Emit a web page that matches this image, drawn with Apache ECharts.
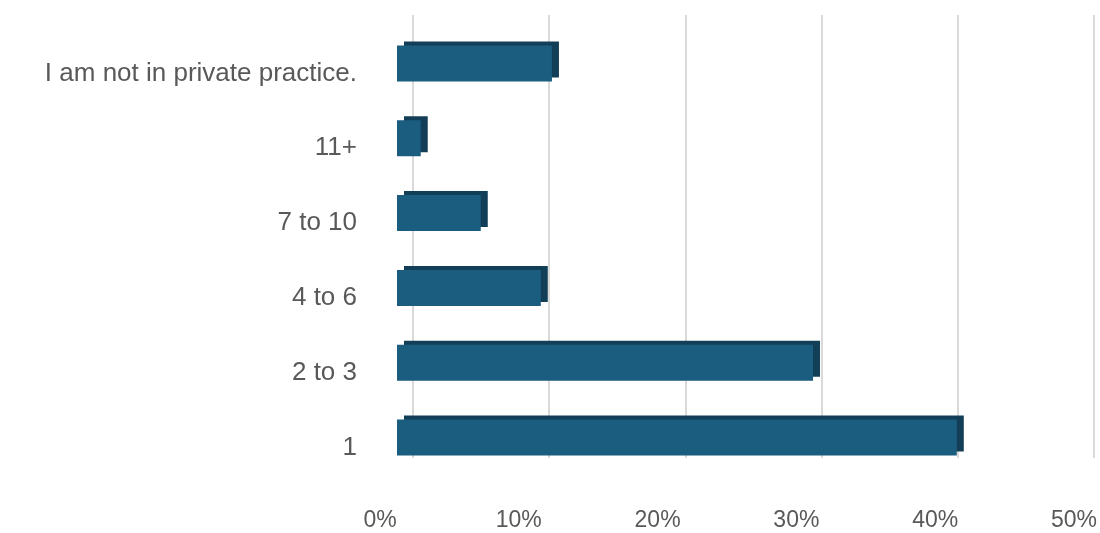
<!DOCTYPE html>
<html>
<head>
<meta charset="utf-8">
<script src="https://cdn.jsdelivr.net/npm/echarts@6/dist/echarts.min.js"></script>
<style>html,body{margin:0;padding:0;background:#fff;}#c{width:1100px;height:533px;}</style>
</head>
<body>
<div id="c"></div>
<script>
// Data (bottom to top)
const categories = ['1', '2 to 3', '4 to 6', '7 to 10', '11+', 'I am not in private practice.'];
const values = [40.1, 29.8, 10.3, 6.0, 1.7, 11.1];
const tickValues = [0, 10, 20, 30, 40, 50];

const chart = echarts.init(document.getElementById('c'));
const barColor = '#1b5d7f';
const sideColor = '#123f57';

chart.setOption({
  backgroundColor: '#ffffff',
  animation: false,
  grid: [
    // bars
    { left: 397, width: 698, top: 26, height: 449, containLabel: false },
    // back-wall gridlines
    { left: 413, width: 681, top: 15, height: 443, containLabel: false },
    // tick labels
    { left: 380, width: 698, top: 26, height: 449, containLabel: false }
  ],
  xAxis: [
    {
      gridIndex: 0, type: 'value', min: 0, max: 50, interval: 10,
      axisLabel: { show: false }, splitLine: { show: false },
      axisLine: { show: false }, axisTick: { show: false }
    },
    {
      gridIndex: 1, type: 'value', min: 0, max: 50, interval: 10,
      axisLabel: { show: false },
      splitLine: { show: true, lineStyle: { color: '#d9d9d9', width: 2 } },
      axisLine: { show: false }, axisTick: { show: false }
    },
    {
      gridIndex: 2, type: 'value', min: 0, max: 50, interval: 10,
      axisLabel: {
        show: true, margin: 34,
        formatter: function (v) { return tickValues.indexOf(v) >= 0 ? v + '%' : ''; },
        fontFamily: '"Liberation Sans Narrow", "Liberation Sans", Arial, sans-serif',
        fontSize: 23, color: '#595959'
      },
      splitLine: { show: false }, axisLine: { show: false }, axisTick: { show: false }
    }
  ],
  yAxis: [
    {
      gridIndex: 0, type: 'category', data: categories,
      axisLine: { show: false }, axisTick: { show: false },
      axisLabel: {
        margin: 40,
        verticalAlign: 'top',
        fontFamily: '"Liberation Sans", Arial, sans-serif',
        fontSize: 26, lineHeight: 20, color: '#595959'
      }
    },
    { gridIndex: 1, type: 'value', show: false, min: 0, max: 1 },
    { gridIndex: 2, type: 'value', show: false, min: 0, max: 1 }
  ],
  series: [
    {
      type: 'bar',
      xAxisIndex: 0, yAxisIndex: 0,
      data: values,
      barWidth: 36,
      itemStyle: {
        color: barColor,
        shadowColor: sideColor,
        shadowBlur: 0,
        shadowOffsetX: 7,
        shadowOffsetY: -4
      },
      label: { show: false }
    }
  ]
});
</script>
</body>
</html>
